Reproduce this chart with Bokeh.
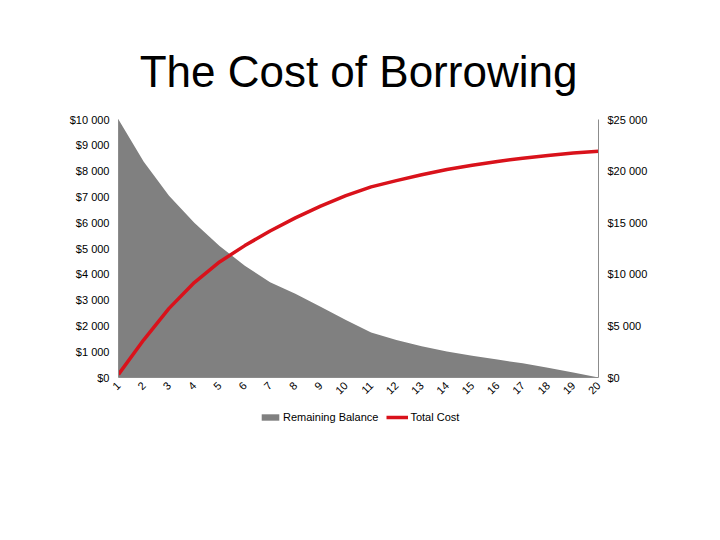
from math import pi
from bokeh.plotting import figure
from bokeh.layouts import column
from bokeh.models import Range1d, LinearAxis, FixedTicker, Legend, LegendItem
from bokeh.embed import file_html
from bokeh.resources import INLINE

# ---- data ----
periods = list(range(1, 21))
period_labels = [str(i) for i in periods]
remaining_balance = [10000, 8360, 7040, 6000, 5100, 4330, 3690, 3250, 2745, 2230,
                     1745, 1450, 1210, 1005, 845, 695, 550, 380, 190, 0]
total_cost = [300, 3650, 6700, 9200, 11200, 12780, 14200, 15470, 16610, 17620,
              18470, 19080, 19650, 20160, 20570, 20940, 21250, 21520, 21755, 21930]
left_ticks = [0, 1000, 2000, 3000, 4000, 5000, 6000, 7000, 8000, 9000, 10000]
left_tick_labels = ["$0", "$1 000", "$2 000", "$3 000", "$4 000", "$5 000",
                    "$6 000", "$7 000", "$8 000", "$9 000", "$10 000"]
right_ticks = [0, 5000, 10000, 15000, 20000, 25000]
right_tick_labels = ["$0", "$5 000", "$10 000", "$15 000", "$20 000", "$25 000"]
series_names = ["Remaining Balance", "Total Cost"]

FONT = "Liberation Sans"
GRAY = "#808080"
RED = "#d9121b"

main = figure(width=720, height=410, output_backend="svg", toolbar_location=None,
              x_range=Range1d(1, 20), y_range=Range1d(0, 10000),
              min_border_left=118, min_border_right=122, min_border_top=119,
              min_border_bottom=33)
main.extra_y_ranges = {"right": Range1d(0, 25000)}

main.title.text = "The Cost of Borrowing"
main.title.text_font = FONT
main.title.text_font_size = "44px"
main.title.text_font_style = "normal"
main.title.text_color = "#000000"
main.title.align = "center"
main.title.standoff = 48

main.outline_line_color = None
main.xgrid.visible = False
main.ygrid.visible = False

main.varea(x=periods, y1=[0] * len(periods), y2=remaining_balance, fill_color=GRAY)
main.line(x=periods, y=total_cost, y_range_name="right",
          line_color=RED, line_width=3.5)

AXIS_COLOR = "#8c8c8c"

ya = main.yaxis[0]
ya.ticker = FixedTicker(ticks=left_ticks)
ya.major_label_overrides = {t: l for t, l in zip(left_ticks, left_tick_labels)}

ra = LinearAxis(y_range_name="right", ticker=FixedTicker(ticks=right_ticks))
ra.major_label_overrides = {t: l for t, l in zip(right_ticks, right_tick_labels)}
main.add_layout(ra, "right")

xa = main.xaxis[0]
xa.ticker = FixedTicker(ticks=periods)
xa.major_label_overrides = {t: l for t, l in zip(periods, period_labels)}
xa.major_label_orientation = pi / 4

for ax in (ya, ra, xa):
    ax.axis_line_color = AXIS_COLOR
    ax.major_tick_line_color = None
    ax.minor_tick_line_color = None
    ax.major_tick_out = 0
    ax.major_tick_in = 0
    ax.major_label_text_font = FONT
    ax.major_label_text_font_size = "11px"
    ax.major_label_text_color = "#000000"
ya.major_label_standoff = 9
ra.major_label_standoff = 9
xa.major_label_standoff = 6

# legend strip below the chart (proxy renderers hold no visible data)
nan = float("nan")
leg = figure(width=720, height=30, output_backend="svg", toolbar_location=None,
             x_range=Range1d(0, 1), y_range=Range1d(0, 1),
             min_border_left=0, min_border_right=0, min_border_top=0,
             min_border_bottom=0)
leg.axis.visible = False
leg.grid.visible = False
leg.outline_line_color = None
swatch = leg.varea(x=[nan, nan], y1=[nan, nan], y2=[nan, nan], fill_color=GRAY)
swline = leg.line(x=[nan, nan], y=[nan, nan], line_color=RED, line_width=3.5)
legend = Legend(items=[LegendItem(label=series_names[0], renderers=[swatch]),
                       LegendItem(label=series_names[1], renderers=[swline])],
                orientation="horizontal", location=(141, 17),
                label_text_font=FONT, label_text_font_size="11px",
                label_text_color="#000000",
                glyph_width=22, glyph_height=8, label_standoff=2, spacing=8,
                border_line_color=None, background_fill_alpha=0,
                padding=0, margin=0)
leg.add_layout(legend, "center")

p = column(main, leg, spacing=0)

open("out.html", "w").write(file_html(p, INLINE))
